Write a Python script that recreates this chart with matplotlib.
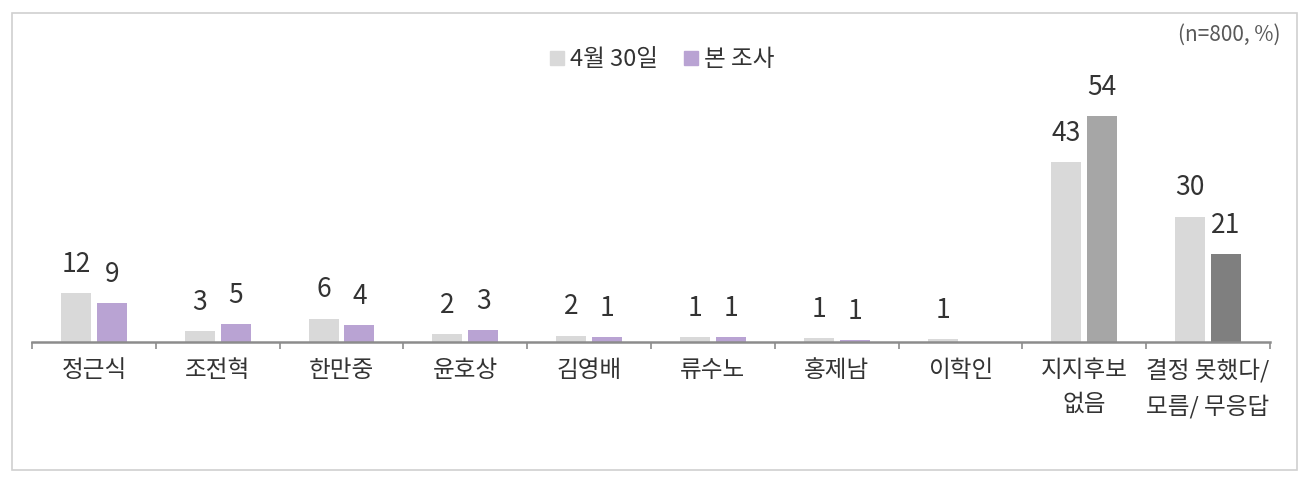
import matplotlib
matplotlib.use("Agg")
import matplotlib.pyplot as plt
from matplotlib.patches import Rectangle
from matplotlib.lines import Line2D
import numpy as np

plt.rcParams['font.family'] = ['Noto Sans CJK KR', 'DejaVu Sans']

categories = ["정근식", "조전혁", "한만중", "윤호상", "김영배", "류수노", "홍제남", "이학인",
              "지지후보\n없음", "결정 못했다/\n모름/ 무응답"]
series_names = ["4월 30일", "본 조사"]
prev_values = [11.7, 2.6, 5.6, 1.9, 1.5, 1.2, 0.9, 0.7, 43, 30]
curr_values = [9.3, 4.3, 4.1, 2.8, 1.2, 1.1, 0.5, 0, 54, 21]
prev_labels = ["12", "3", "6", "2", "2", "1", "1", "1", "43", "30"]
curr_labels = ["9", "5", "4", "3", "1", "1", "1", "", "54", "21"]

prev_color = "#D9D9D9"
curr_colors = ["#B9A3D3"] * 8 + ["#A6A6A6", "#7F7F7F"]

W, H = 1311, 483
fig = plt.figure(figsize=(W / 100, H / 100), dpi=100)
fig.patch.set_facecolor("white")

# outer frame
fig.add_artist(Rectangle((12 / W, 13 / H), (1297 - 12) / W, (470 - 13) / H,
                         transform=fig.transFigure, fill=False,
                         edgecolor="#D0D0D0", linewidth=1.2))

ax = fig.add_axes([32 / W, 141 / H, (1270 - 32) / W, 250.8 / H])
x = np.arange(len(categories))
bw = 0.242
off = 0.145
b1 = ax.bar(x - off, prev_values, width=bw, color=prev_color)
b2 = ax.bar(x + off, curr_values, width=bw, color=curr_colors)

txt_color = "#333333"
for bars, labels in ((b1, prev_labels), (b2, curr_labels)):
    for rect, lab in zip(bars, labels):
        if lab:
            ax.annotate(lab, (rect.get_x() + rect.get_width() / 2, rect.get_height()),
                        xytext=(0, 11), textcoords="offset points", ha="center", va="bottom",
                        fontsize=19, color=txt_color, annotation_clip=False)

ax.set_xlim(-0.5, len(categories) - 0.5)
ax.set_ylim(0, 60)
for s in ["top", "right", "left"]:
    ax.spines[s].set_visible(False)
ax.spines["bottom"].set_color("#8C8C8C")
ax.spines["bottom"].set_linewidth(1.8)
ax.set_yticks([])
ax.set_xticks(x)
ax.set_xticklabels(categories, fontsize=17, color=txt_color, linespacing=1.6, va="top")
ax.tick_params(axis="x", which="major", length=0, pad=12)
ax.set_xticks(np.arange(-0.5, len(categories)), minor=True)
ax.tick_params(axis="x", which="minor", length=5, width=1.2, color="#8C8C8C", direction="out")

# legend
handles = [Line2D([0], [0], marker="s", linestyle="", markersize=10, markerfacecolor=prev_color,
                  markeredgecolor=prev_color),
           Line2D([0], [0], marker="s", linestyle="", markersize=10, markerfacecolor=curr_colors[0],
                  markeredgecolor=curr_colors[0])]
fig.legend(handles, series_names, loc="center", bbox_to_anchor=(660 / W, 1 - 60 / H),
           ncol=2, frameon=False, fontsize=17, handletextpad=0.05, columnspacing=0.9,
           handlelength=1.0, labelcolor=txt_color)

fig.text(1281 / W, 1 - 35 / H, "(n=800, %)", ha="right", va="center", fontsize=15,
         color="#595959")

fig.savefig("out.png", dpi=100, facecolor="white")
